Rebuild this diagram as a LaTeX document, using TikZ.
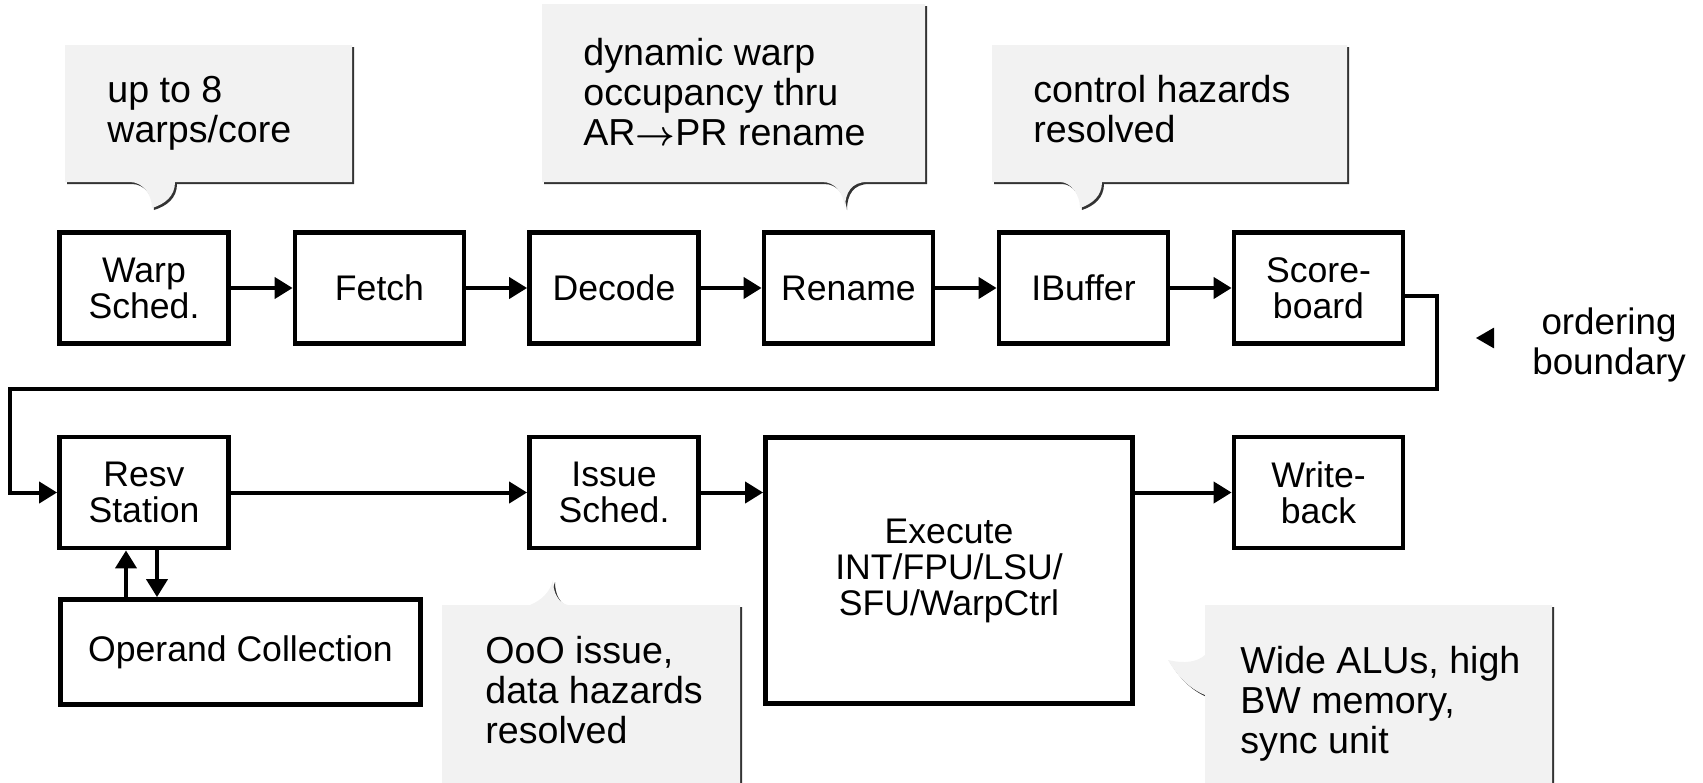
\documentclass[tikz,border=0pt]{standalone}
\usepackage{fontspec}
\setmainfont{Liberation Sans}
\usepackage{xcolor}
\usepackage{tikz}
\usetikzlibrary{arrows.meta}
\usetikzlibrary{shapes.geometric}
\usetikzlibrary{shadows}
\definecolor{notegray}{HTML}{F2F2F2}
\tikzstyle{stagenode}=[black, draw=black, line width=2.4pt, shape=rectangle, fill=white, minimum width=84.5pt, minimum height=55.5pt, inner sep=2pt, align=center, font=\fontsize{17.8}{18}\selectfont]
\tikzstyle{notebox}=[fill=notegray, drop shadow={shadow xshift=1pt, shadow yshift=-1pt, opacity=1, fill=black!80}]
\tikzstyle{notetext}=[black, anchor=base west, align=left, inner sep=0pt, font=\fontsize{18.8}{20}\selectfont]
\tikzstyle{flowline}=[-{Triangle[length=9pt, width=10.5pt]}, line width=2pt, color=black]

\begin{document}
\begin{tikzpicture}[x=0.5pt, y=-0.5pt]
\useasboundingbox (0,0) rectangle (1703,782);
\clip (0,0) rectangle (1703,782);

\fill[notebox] (65,45) -- (352,45) -- (352,182) -- (175,182) .. controls (175,196) and (165,204) .. (152,208) .. controls (152,195) and (143,182) .. (130,182) -- (65,182) -- cycle;
\fill[notebox] (542,4) -- (925,4) -- (925,182) -- (867,182) .. controls (852,182) and (845,192) .. (845,208) .. controls (843,192) and (835,182) .. (822,182) -- (542,182) -- cycle;
\fill[notebox] (992,45) -- (1347,45) -- (1347,182) -- (1102,182) .. controls (1102,196) and (1092,204) .. (1080,208) .. controls (1080,195) and (1071,182) .. (1060,182) -- (992,182) -- cycle;
\fill[notebox] (442,605) -- (530,605) .. controls (542,600) and (550,592) .. (553,580) .. controls (553,592) and (558,603) .. (568,605) -- (740,605) -- (740,800) -- (442,800) -- cycle;
\fill[notebox] (1205,605) -- (1552,605) -- (1552,800) -- (1205,800) -- (1205,695) .. controls (1188,688) and (1176,674) .. (1168,660) .. controls (1185,664) and (1197,662) .. (1205,655) -- cycle;

\node [notetext] (warpnote) at (107,142) {up to 8\\warps/core};
\node [notetext] (renamenote) at (583,145) {dynamic warp\\occupancy thru\\AR{\boldmath$\rightarrow$}PR rename};
\node [notetext] (ibufnote) at (1033,142) {control hazards\\resolved};
\node [notetext] (issuenote) at (485,743) {OoO issue,\\data hazards\\resolved};
\node [notetext] (execnote) at (1240,753) {Wide ALUs, high\\BW memory,\\sync unit};

\node [stagenode] (warp) at (144,288) {Warp\\Sched.};
\node [stagenode] (fetch) at (379.5,288) {Fetch};
\node [stagenode] (decode) at (614,288) {Decode};
\node [stagenode] (rename) at (848.5,288) {Rename};
\node [stagenode] (ibuf) at (1083.5,288) {IBuffer};
\node [stagenode] (score) at (1318.5,288) {Score-\\board};
\node [stagenode] (resv) at (144,492.5) {Resv\\Station};
\node [stagenode] (issue) at (614,492.5) {Issue\\Sched.};
\node [stagenode, minimum width=183.5pt, minimum height=133pt] (exec) at (949,570.5) {Execute\\INT/FPU/LSU/\\SFU/WarpCtrl};
\node [stagenode] (wback) at (1318.5,492.5) {Write-\\back};
\node [stagenode, minimum width=180pt, minimum height=52.5pt] (opcol) at (240.5,652) {Operand Collection};

\node [regular polygon, regular polygon sides=3, shape border rotate=90, fill=black, inner sep=0pt, minimum size=12pt] (ordmark) at (1488,338) {};
\node [align=center, font=\fontsize{18.4}{20}\selectfont] (ordtext) at (1609,345) {ordering\\boundary};

\coordinate (loopr) at (1437,389);
\coordinate (loopl) at (10,389);

\draw[flowline] (warp) -- (fetch);
\draw[flowline] (fetch) -- (decode);
\draw[flowline] (decode) -- (rename);
\draw[flowline] (rename) -- (ibuf);
\draw[flowline] (ibuf) -- (score);
\draw[flowline] ([yshift=-4pt]score.east) -| (loopr) -- (loopl) |- (resv.west);
\draw[flowline] (resv) -- (issue);
\draw[flowline] (issue.east) -- (issue.east -| exec.west);
\draw[flowline] (exec.east |- wback.west) -- (wback.west);
\draw[flowline] ([xshift=-9pt]resv.south |- opcol.north) -- ([xshift=-9pt]resv.south);
\draw[flowline] ([xshift=6.5pt]resv.south) -- ([xshift=6.5pt]resv.south |- opcol.north);
\end{tikzpicture}
\end{document}
